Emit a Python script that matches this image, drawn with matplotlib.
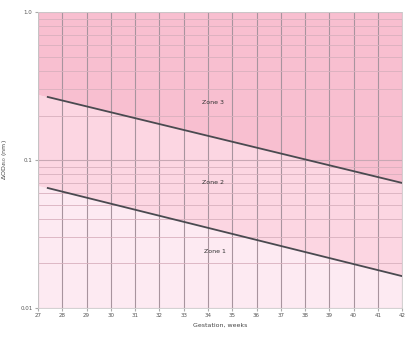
import numpy as np
import matplotlib
matplotlib.use('Agg')
import matplotlib.pyplot as plt
from matplotlib.ticker import FixedLocator, LogLocator, NullFormatter

# boundary lines (gestation weeks, delta OD450)
line_weeks = [27.4, 42.0]
upper_line = [0.267, 0.070]
lower_line = [0.0647, 0.0164]

week_ticks = list(range(27, 43))
y_ticks = [0.01, 0.1, 1.0]
y_tick_labels = ['0.01', '0.1', '1.0']

zone_labels = ['Zone 3', 'Zone 2', 'Zone 1']
zone_pos = [(34.2, 0.245), (34.2, 0.070), (34.3, 0.024)]

fig = plt.figure(figsize=(4.05, 3.38), dpi=100)
ax = fig.add_axes([0.094, 0.089, 0.899, 0.875])
ax.set_yscale('log')
ax.set_xlim(27, 42)
ax.set_ylim(0.01, 1.0)

# extend the boundaries across the whole width for the shading
def loglinear(xs, ys, x):
    k = (np.log10(ys[1]) - np.log10(ys[0])) / (xs[1] - xs[0])
    return 10 ** (np.log10(ys[0]) + k * (np.asarray(x) - xs[0]))

xx = np.linspace(27, 42, 50)
up = loglinear(line_weeks, upper_line, xx)
lo = loglinear(line_weeks, lower_line, xx)
ax.fill_between(xx, 0.01, lo, color='#fdeaf2', lw=0, zorder=0)
ax.fill_between(xx, lo, up, color='#fcd6e2', lw=0, zorder=0)
ax.fill_between(xx, up, 1.0, color='#f8bfd0', lw=0, zorder=0)

ax.xaxis.set_major_locator(FixedLocator(week_ticks))
ax.set_xticklabels([str(w) for w in week_ticks])
ax.yaxis.set_major_locator(FixedLocator(y_ticks))
ax.set_yticklabels(y_tick_labels)
ax.yaxis.set_minor_locator(LogLocator(base=10, subs=np.arange(2, 10)))
ax.yaxis.set_minor_formatter(NullFormatter())

ax.grid(True, which='major', axis='x', color='#a8949e', lw=0.8, zorder=1)
ax.grid(True, which='major', axis='y', color='#c8a8b4', lw=0.8, zorder=1)
ax.grid(True, which='minor', axis='y', color='#d8b0be', lw=0.6, zorder=1)

ax.plot(line_weeks, upper_line, color='#4a4a50', lw=1.3, zorder=3)
ax.plot(line_weeks, lower_line, color='#4a4a50', lw=1.3, zorder=3)

for lab, (x, y) in zip(zone_labels, zone_pos):
    ax.text(x, y, lab, fontsize=4.5, color='#333333', ha='center', va='center', zorder=4)

for s in ax.spines.values():
    s.set_color('#cccccc')
    s.set_linewidth(0.6)
ax.tick_params(axis='both', which='both', length=2, color='#aaaaaa',
               labelsize=4, labelcolor='#555555', pad=2)
ax.tick_params(axis='y', which='minor', length=0)

ax.set_xlabel('Gestation, weeks', fontsize=4.5, color='#444444', labelpad=3)
ax.set_ylabel(r'$\Delta$OD$_{450}$ (nm)', fontsize=4.5, color='#444444', labelpad=8)

fig.savefig('out.png', dpi=100)
